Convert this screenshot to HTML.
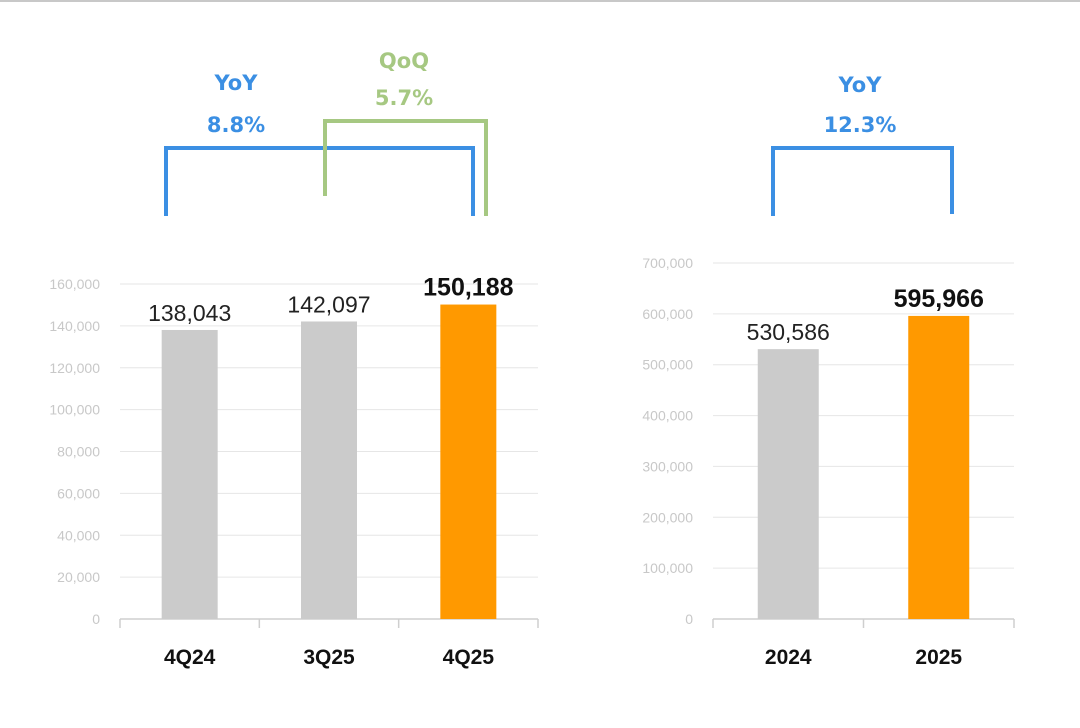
<!DOCTYPE html>
<html><head><meta charset="utf-8"><style>
html,body{margin:0;padding:0;background:#fff;}
svg{display:block;}
</style></head><body>
<svg id="c" width="1080" height="728" xmlns="http://www.w3.org/2000/svg">
<rect x="0" y="0" width="1080" height="2" fill="#c8c8c8"/>
<g font-family="'DejaVu Sans', Verdana, sans-serif" font-weight="bold" font-size="21" text-anchor="middle">
<path d="M166 216 V148 H473 V216" fill="none" stroke="#3b8fe3" stroke-width="4"/>
<path d="M325 196 V121 H486 V216" fill="none" stroke="#a6c882" stroke-width="4"/>
<path d="M773 216 V148 H952 V214" fill="none" stroke="#3b8fe3" stroke-width="4"/>
<text x="236" y="90" fill="#3b8fe3">YoY</text>
<text x="236" y="132" fill="#3b8fe3">8.8%</text>
<text x="404" y="68" fill="#a6c882">QoQ</text>
<text x="404" y="105" fill="#a6c882">5.7%</text>
<text x="860" y="92" fill="#3b8fe3">YoY</text>
<text x="860" y="132" fill="#3b8fe3">12.3%</text>
</g>
<g id="left"></g>
<g id="right"></g>
</svg>
<script>
const qCategories = ["4Q24","3Q25","4Q25"];
const qValues = [138043,142097,150188];
const qTicks = [0,20000,40000,60000,80000,100000,120000,140000,160000];
const aCategories = ["2024","2025"];
const aValues = [530586,595966];
const aTicks = [0,100000,200000,300000,400000,500000,600000,700000];

const NS="http://www.w3.org/2000/svg";
function mk(parent,tag,attrs,text){const e=document.createElementNS(NS,tag);for(const k in attrs)e.setAttribute(k,attrs[k]);if(text!==undefined)e.textContent=text;parent.appendChild(e);return e;}
function fmt(v){return v.toLocaleString('en-US');}

function drawChart(g,cfg){
  const {cats,vals,ticks,x0,x1,y0,yTop,maxV,barW,prefix}=cfg;
  const y=v=>y0-(v/maxV)*(y0-yTop);
  const step=(x1-x0)/cats.length;
  ticks.forEach(t=>{
    if(t>0){const l=mk(g,'line',{x1:x0,x2:x1,y1:y(t),y2:y(t),stroke:'#e6e6e6','stroke-width':1});
      
      }
    const tx=mk(g,'text',{x:x0-20,y:y(t)+5,'text-anchor':'end','font-family':'Liberation Sans, sans-serif','font-size':14,fill:'#c8c8c8'},fmt(t));
    
    
  });
  const ax=mk(g,'line',{x1:x0,x2:x1,y1:y0,y2:y0,stroke:'#cfcfcf','stroke-width':1.5});
  
  
  for(let i=0;i<=cats.length;i++){
    const tk=mk(g,'line',{x1:x0+i*step,x2:x0+i*step,y1:y0,y2:y0+9,stroke:'#cfcfcf','stroke-width':1.5});
    
    
  }
  cats.forEach((c,i)=>{
    const cx=x0+step*(i+0.5);
    const last=i===cats.length-1;
    const b=mk(g,'rect',{x:cx-barW/2,y:y(vals[i]),width:barW,height:y0-y(vals[i]),fill:last?'#ff9900':'#cbcbcb'});
    
    
    const lb=mk(g,'text',{x:cx,y:y(vals[i])-9,'text-anchor':'middle','font-family':'Liberation Sans, sans-serif','font-size':last?25:23,'font-weight':last?'bold':'normal',fill:last?'#111':'#222'},fmt(vals[i]));
    
    
    const cl=mk(g,'text',{x:cx,y:y0+45,'text-anchor':'middle','font-family':'Liberation Sans, sans-serif','font-size':21,'font-weight':'bold',fill:'#111'},c);
    
    
  });
}
drawChart(document.getElementById('left'),{cats:qCategories,vals:qValues,ticks:qTicks,x0:120,x1:538,y0:619,yTop:284,maxV:160000,barW:56,prefix:'quarterly'});
drawChart(document.getElementById('right'),{cats:aCategories,vals:aValues,ticks:aTicks,x0:713,x1:1014,y0:619,yTop:263,maxV:700000,barW:61,prefix:'annual'});
</script>
</body></html>
